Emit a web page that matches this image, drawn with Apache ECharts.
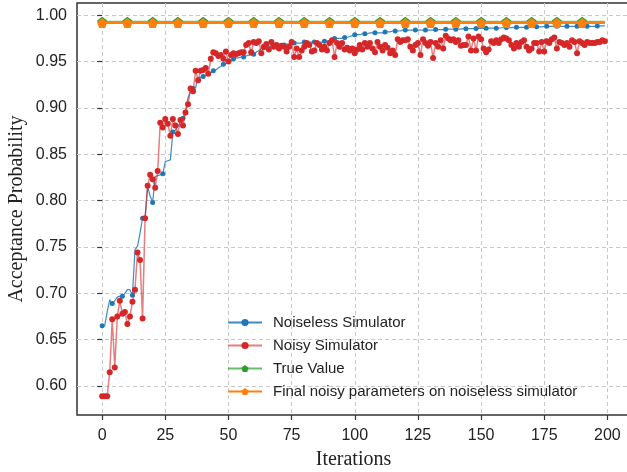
<!DOCTYPE html>
<html>
<head>
<meta charset="utf-8">
<script src="https://cdn.jsdelivr.net/npm/echarts@6/dist/echarts.min.js"></script>
<style>
  html, body { margin: 0; padding: 0; background: #fff; }
  #chart { width: 627px; height: 472px; }
</style>
</head>
<body>
<div id="chart"></div>
<script>
var noiseless = [
  0.665, 0.665, 0.680, 0.693, 0.689, 0.692, 0.696, 0.697, 0.697, 0.700,
  0.704, 0.704, 0.698, 0.747, 0.751, 0.765, 0.781, 0.781, 0.815, 0.805,
  0.798, 0.826, 0.827, 0.828, 0.829, 0.842, 0.843, 0.844, 0.874, 0.876,
  0.880, 0.885, 0.889, 0.896, 0.911, 0.918, 0.921, 0.922, 0.932, 0.933,
  0.934, 0.935, 0.937, 0.938, 0.940, 0.941, 0.943, 0.945, 0.947, 0.948,
  0.949, 0.951, 0.953, 0.954, 0.954, 0.955, 0.955, 0.956, 0.957, 0.957,
  0.958, 0.960, 0.962, 0.964, 0.965, 0.966, 0.966, 0.967, 0.967, 0.968,
  0.968, 0.968, 0.968, 0.969, 0.969, 0.970, 0.970, 0.970, 0.970, 0.970,
  0.971, 0.971, 0.971, 0.971, 0.971, 0.971, 0.971, 0.971, 0.972, 0.972,
  0.973, 0.974, 0.975, 0.975, 0.975, 0.975, 0.976, 0.976, 0.977, 0.978,
  0.979, 0.979, 0.979, 0.980, 0.980, 0.980, 0.981, 0.981, 0.981, 0.981,
  0.981, 0.981, 0.982, 0.982, 0.982, 0.983, 0.983, 0.983, 0.983, 0.984,
  0.984, 0.984, 0.984, 0.984, 0.984, 0.984, 0.984, 0.984, 0.984, 0.984,
  0.984, 0.984, 0.9845, 0.9845, 0.9845, 0.9845, 0.985, 0.985, 0.985, 0.985,
  0.985, 0.985, 0.985, 0.9855, 0.9855, 0.9855, 0.9855, 0.9855, 0.9857, 0.9857,
  0.9857, 0.9857, 0.986, 0.986, 0.986, 0.986, 0.986, 0.986, 0.9865, 0.9865,
  0.9867, 0.9867, 0.9867, 0.987, 0.987, 0.987, 0.987, 0.987, 0.987, 0.987,
  0.9872, 0.9872, 0.9875, 0.9875, 0.9875, 0.988, 0.988, 0.988, 0.988, 0.988,
  0.988, 0.988, 0.988, 0.988, 0.988, 0.988, 0.988, 0.988, 0.988, 0.988,
  0.988, 0.988, 0.988, 0.988, 0.988, 0.988, 0.9885, 0.9885, 0.9885, 0.9885
];
var noisy = [
  0.589, 0.589, 0.589, 0.615, 0.672, 0.620, 0.675, 0.692, 0.678, 0.680,
  0.667, 0.675, 0.691, 0.704, 0.744, 0.736, 0.673, 0.781, 0.816, 0.828,
  0.823, 0.814, 0.832, 0.884, 0.879, 0.888, 0.883, 0.870, 0.888, 0.881,
  0.872, 0.887, 0.881, 0.895, 0.904, 0.921, 0.918, 0.940, 0.930, 0.940,
  0.941, 0.943, 0.937, 0.953, 0.960, 0.959, 0.956, 0.957, 0.953, 0.961,
  0.950, 0.957, 0.959, 0.958, 0.959, 0.960, 0.960, 0.968, 0.970, 0.960,
  0.971, 0.970, 0.972, 0.959, 0.966, 0.969, 0.963, 0.971, 0.966, 0.968,
  0.964, 0.967, 0.966, 0.961, 0.966, 0.971, 0.955, 0.964, 0.955, 0.962,
  0.966, 0.970, 0.968, 0.961, 0.962, 0.970, 0.968, 0.963, 0.966, 0.962,
  0.970, 0.973, 0.955, 0.970, 0.966, 0.970, 0.963, 0.965, 0.962, 0.964,
  0.959, 0.963, 0.968, 0.963, 0.970, 0.966, 0.970, 0.964, 0.960, 0.971,
  0.966, 0.962, 0.968, 0.965, 0.959, 0.962, 0.957, 0.974, 0.971, 0.973,
  0.973, 0.974, 0.966, 0.962, 0.968, 0.970, 0.957, 0.974, 0.970, 0.967,
  0.971, 0.954, 0.970, 0.966, 0.973, 0.964, 0.978, 0.975, 0.973, 0.974,
  0.971, 0.973, 0.967, 0.968, 0.968, 0.977, 0.962, 0.975, 0.962, 0.977,
  0.974, 0.964, 0.960, 0.963, 0.972, 0.970, 0.973, 0.970, 0.974, 0.976,
  0.975, 0.973, 0.968, 0.964, 0.970, 0.966, 0.971, 0.973, 0.966, 0.962,
  0.964, 0.970, 0.970, 0.961, 0.971, 0.961, 0.972, 0.970, 0.974, 0.976,
  0.964, 0.971, 0.970, 0.968, 0.970, 0.966, 0.973, 0.971, 0.959, 0.972,
  0.970, 0.968, 0.971, 0.970, 0.970, 0.970, 0.971, 0.971, 0.973, 0.972
];
var trueValue = 0.9930;
var finalNoisyValue = 0.9915;
var flatIterations = [0, 10, 20, 30, 40, 50, 60, 70, 80, 90, 100, 110, 120, 130, 140, 150, 160, 170, 180, 190, 199];
var xTicks = [0, 25, 50, 75, 100, 125, 150, 175, 200];
var yTicks = [0.60, 0.65, 0.70, 0.75, 0.80, 0.85, 0.90, 0.95, 1.00];

var pentagon = 'path://M0,-1 L0.951,-0.309 L0.588,0.809 L-0.588,0.809 L-0.951,-0.309 Z';

function seriesPoints(values, every) {
  return values.map(function (v, i) {
    return { value: [i, v], symbol: i % every === 0 ? 'circle' : 'none' };
  });
}
function flatPoints(v) {
  return flatIterations.map(function (it) {
    return { value: [it, v], symbol: it % 10 === 0 ? pentagon : 'none' };
  });
}

var chart = echarts.init(document.getElementById('chart'));
var tickFont = '"Liberation Sans", sans-serif';
var gridLine = { show: true, lineStyle: { color: '#c8c8c8', type: [4, 3], width: 1 } };

chart.setOption({
  animation: false,
  backgroundColor: '#fff',
  grid: {
    left: 77, top: 3, width: 553, height: 412,
    outerBoundsMode: 'none',
    show: true, borderColor: '#333', borderWidth: 1.5, backgroundColor: 'transparent'
  },
  xAxis: {
    type: 'value', min: -9.95, max: 208.95,
    name: 'Iterations', nameLocation: 'middle', nameGap: 35, nameMoveOverlap: false,
    nameTextStyle: { fontFamily: '"Liberation Serif", serif', fontSize: 20, color: '#222' },
    axisLine: { show: false },
    axisTick: { show: true, length: 5, customValues: xTicks, lineStyle: { color: '#333', width: 1.2 } },
    axisLabel: { customValues: xTicks, fontFamily: tickFont, fontSize: 16, color: '#222', margin: 13 },
    splitLine: gridLine
  },
  yAxis: {
    type: 'value', min: 0.5688, max: 1.0132,
    name: 'Acceptance Probability', nameLocation: 'middle', nameGap: 50, nameMoveOverlap: false,
    nameTextStyle: { fontFamily: '"Liberation Serif", serif', fontSize: 20, color: '#222' },
    axisLine: { show: false },
    axisTick: { show: true, length: 5, customValues: yTicks, lineStyle: { color: '#333', width: 1.2 } },
    axisLabel: {
      customValues: yTicks, fontFamily: tickFont, fontSize: 16, color: '#222', margin: 10,
      formatter: function (v) { return v.toFixed(2); }
    },
    splitLine: gridLine
  },
  legend: {
    orient: 'vertical', left: 222, top: 310,
    itemWidth: 34, itemHeight: 9, itemGap: 8,
    textStyle: { fontFamily: '"Liberation Sans", sans-serif', fontSize: 15, color: '#222', padding: [0, 0, 0, 6] },
    data: ['Noiseless Simulator', 'Noisy Simulator', 'True Value', 'Final noisy parameters on noiseless simulator']
  },
  series: [
    {
      name: 'Noiseless Simulator', type: 'line',
      data: seriesPoints(noiseless, 4),
      symbol: 'circle', symbolSize: 5,
      lineStyle: { color: '#1f77b4', width: 1.2, opacity: 0.85 },
      itemStyle: { color: '#1f77b4' },
      z: 2
    },
    {
      name: 'Noisy Simulator', type: 'line',
      data: seriesPoints(noisy, 1),
      symbol: 'circle', symbolSize: 6,
      lineStyle: { color: '#d62728', width: 1.5, opacity: 0.6 },
      itemStyle: { color: '#d62728' },
      z: 3
    },
    {
      name: 'True Value', type: 'line',
      data: flatPoints(trueValue),
      symbol: pentagon, symbolSize: 10,
      lineStyle: { color: '#2ca02c', width: 2, opacity: 0.7 },
      itemStyle: { color: '#2ca02c' },
      z: 4
    },
    {
      name: 'Final noisy parameters on noiseless simulator', type: 'line',
      data: flatPoints(finalNoisyValue),
      symbol: pentagon, symbolSize: 10,
      lineStyle: { color: '#ff7f0e', width: 2 },
      itemStyle: { color: '#ff7f0e' },
      z: 5
    }
  ]
});
</script>
</body>
</html>
